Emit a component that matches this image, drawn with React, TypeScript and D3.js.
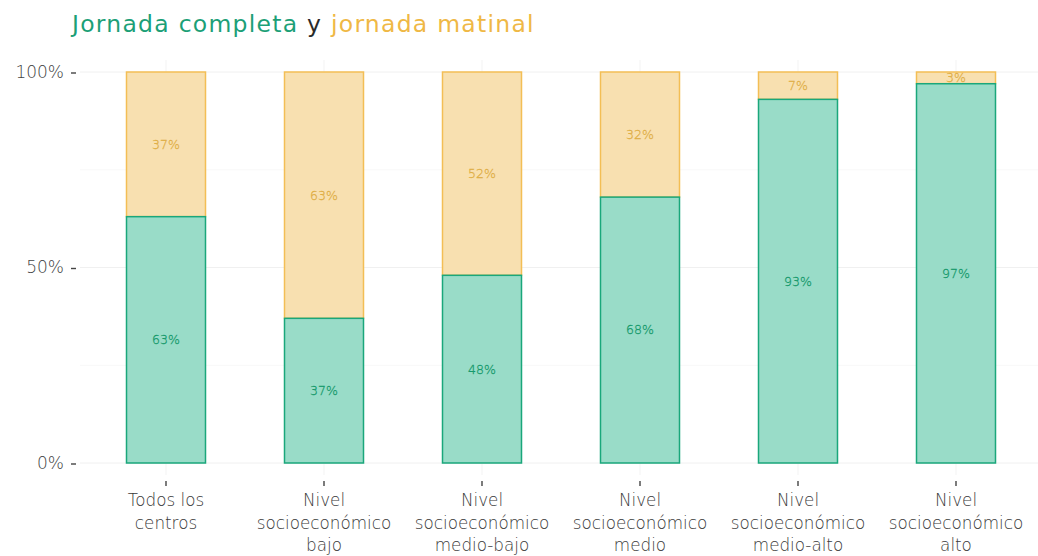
import * as d3 from "d3";
import React from "react";

const categories = [
  ["Todos los", "centros"],
  ["Nivel", "socioeconómico", "bajo"],
  ["Nivel", "socioeconómico", "medio-bajo"],
  ["Nivel", "socioeconómico", "medio"],
  ["Nivel", "socioeconómico", "medio-alto"],
  ["Nivel", "socioeconómico", "alto"],
];
const completa = [63, 37, 48, 68, 93, 97];
const matinal = [37, 63, 52, 32, 7, 3];
const yTicks = [0, 50, 100];
const gridMinor = [25, 75];

const W = 1038;
const H = 556;
const GREEN = "#1c9f77";
const YELLOW = "#efb845";
const FONT = "'DejaVu Sans', 'Open Sans', sans-serif";

export default function App() {
  const keys = categories.map((_, i) => String(i));
  const x = d3.scaleBand().domain(keys).range([87, 1035]).paddingInner(0.5).paddingOuter(0.25);
  const y = d3.scaleLinear().domain([0, 100]).range([463, 72]);

  return (
    <svg width={W} height={H} style={{ position: "absolute", left: 0, top: 0, background: "#fff" }} fontFamily={FONT}>
      <text x={72} y={32} fontSize={23.5} fontWeight={400} letterSpacing={1.25}>
        <tspan fill={GREEN}>Jornada completa</tspan>
        <tspan fill="#2a2a2a"> y </tspan>
        <tspan fill={YELLOW}>jornada matinal</tspan>
      </text>

      {/* grid */}
      {gridMinor.map((t) => (
        <line key={"m" + t} x1={80} x2={1038} y1={y(t)} y2={y(t)} stroke="#f6f6f6" strokeWidth={0.8} />
      ))}
      {yTicks.map((t) => (
        <line key={"g" + t} x1={80} x2={1038} y1={y(t)} y2={y(t)} stroke="#f0f0f0" strokeWidth={1} />
      ))}
      {keys.map((k) => (
        <line key={"v" + k} x1={x(k)! + x.bandwidth() / 2} x2={x(k)! + x.bandwidth() / 2} y1={60} y2={475} stroke="#f3f3f3" />
      ))}

      {/* y axis */}
      {yTicks.map((t) => (
        <g key={"y" + t}>
          <text x={64} y={y(t)} dy="0.35em" textAnchor="end" fontSize={17} fontWeight={200} fill="#444">{t}%</text>
          <line x1={71} x2={76} y1={y(t) + 1} y2={y(t) + 1} stroke="#444" strokeWidth={1.4} />
        </g>
      ))}

      {/* bars */}
      {keys.map((k, i) => {
        const x0 = x(k)!;
        const bw = x.bandwidth();
        const gTop = y(completa[i]);
        const yTop = y(completa[i] + matinal[i]);
        return (
          <g key={"b" + k}>
            <rect x={x0} y={yTop} width={bw} height={gTop - yTop} fill="#f8e0b0" stroke="#f3be55" strokeWidth={1.5} />
            <rect x={x0} y={gTop} width={bw} height={y(0) - gTop} fill="#99dcc8" stroke="#1aa77b" strokeWidth={1.5} />
            <text x={x0 + bw / 2} y={(yTop + gTop) / 2} dy="0.35em" textAnchor="middle" fontSize={12.5} fontWeight={200} fill="#dfae45" stroke="#dfae45" strokeWidth={0.3}>{matinal[i]}%</text>
            <text x={x0 + bw / 2} y={(gTop + y(0)) / 2} dy="0.35em" textAnchor="middle" fontSize={12.5} fontWeight={200} fill="#15996b" stroke="#15996b" strokeWidth={0.3}>{completa[i]}%</text>
          </g>
        );
      })}

      {/* x axis */}
      {categories.map((lines, i) => {
        const cx = x(keys[i])! + x.bandwidth() / 2;
        return (
          <g key={"x" + i}>
            <line x1={cx} x2={cx} y1={481} y2={486} stroke="#444" strokeWidth={1.4} />
            <text textAnchor="middle" fontSize={16.8} fontWeight={200} fill="#3a3a3a">
              {lines.map((l, j) => (
                <tspan key={j} x={cx} y={506 + j * 22.5}>{l}</tspan>
              ))}
            </text>
          </g>
        );
      })}
    </svg>
  );
}
